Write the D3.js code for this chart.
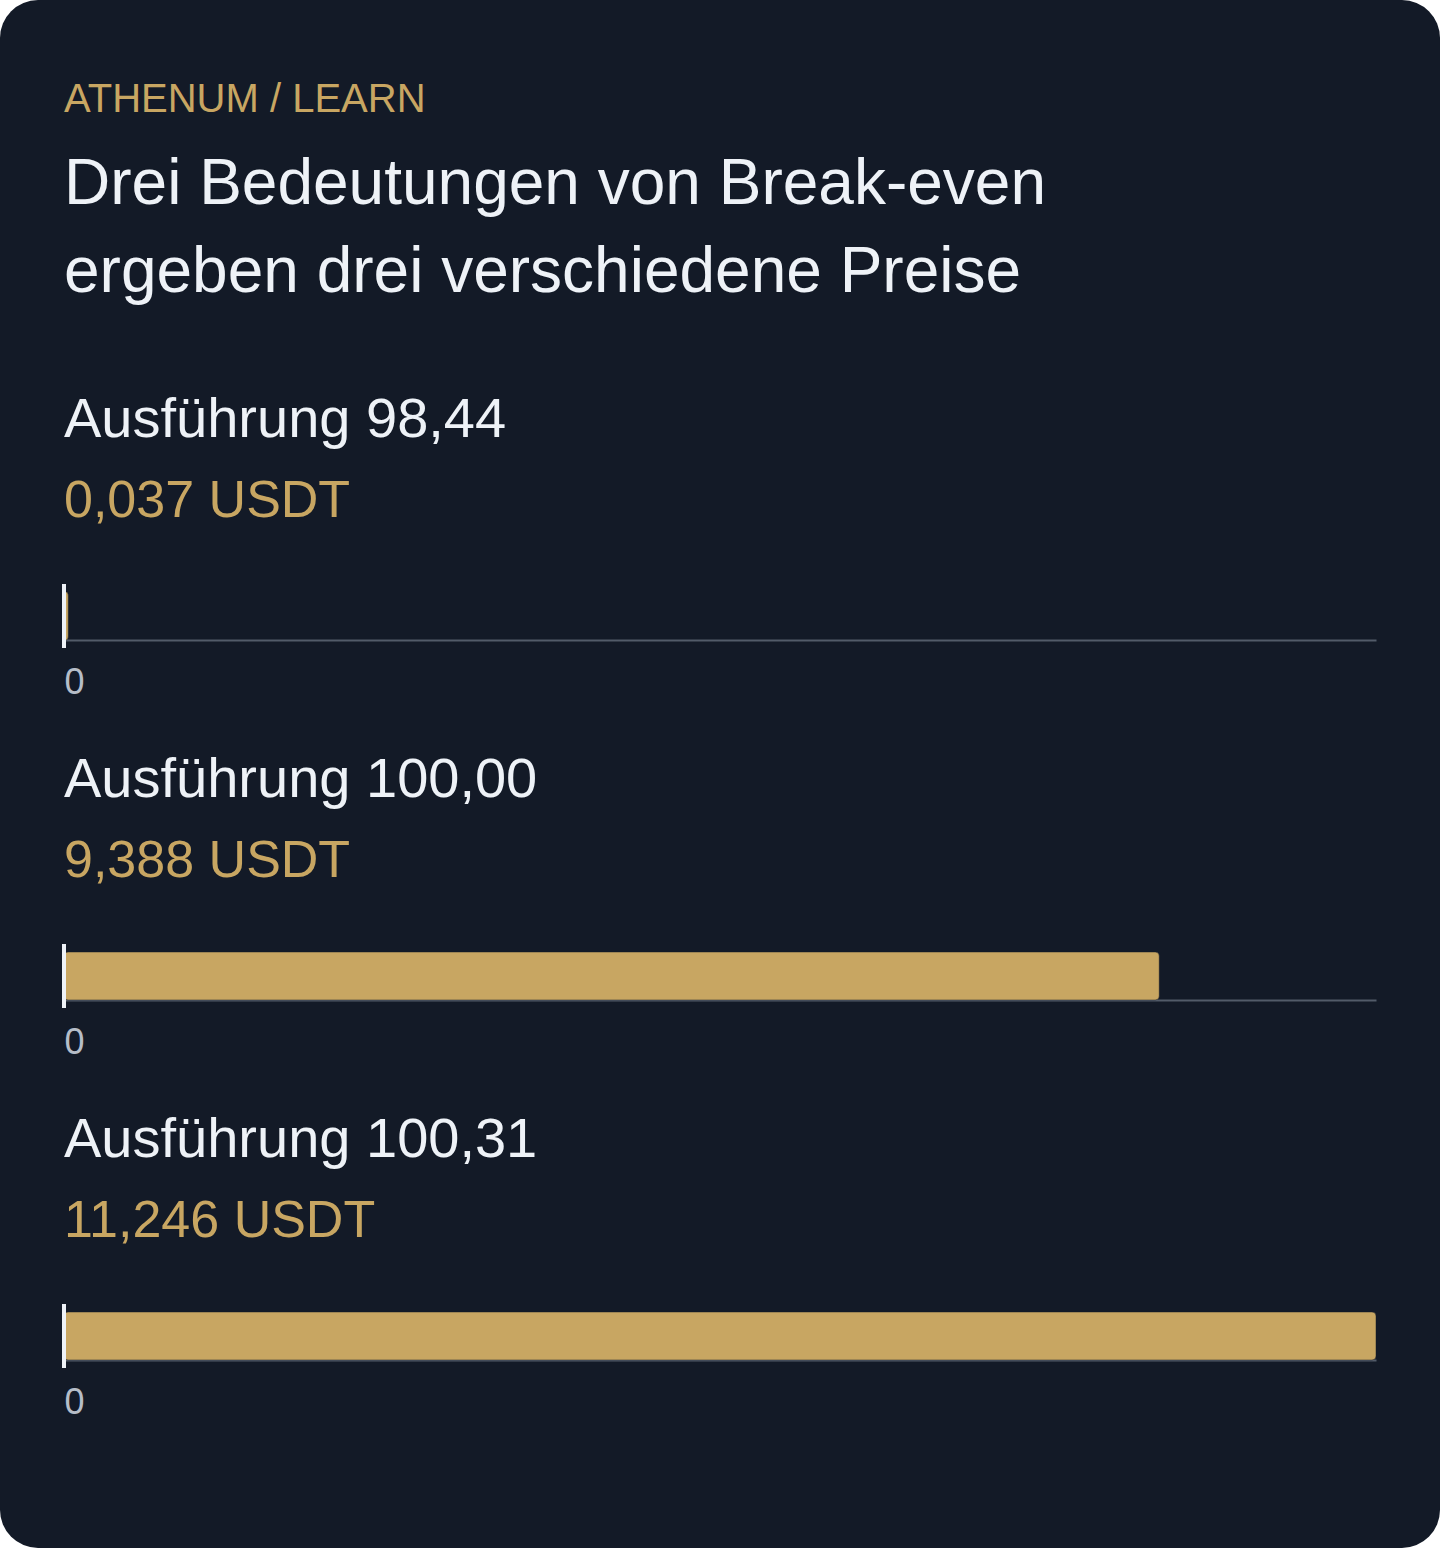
<!DOCTYPE html>
<html>
<head>
<meta charset="utf-8">
<script src="https://cdn.jsdelivr.net/npm/d3@7"></script>
<style>
  html, body { margin: 0; padding: 0; background: #ffffff; }
  svg { display: block; }
  text { font-family: "Liberation Sans", Arial, Helvetica, sans-serif; }
</style>
</head>
<body>
<div id="chart"></div>
<script>
// ---- data ----
const eyebrow = "ATHENUM / LEARN";
const titleLines = ["Drei Bedeutungen von Break-even", "ergeben drei verschiedene Preise"];
const categories = ["Ausführung 98,44", "Ausführung 100,00", "Ausführung 100,31"];
const values = [0.037, 9.388, 11.246];
const valueLabels = ["0,037 USDT", "9,388 USDT", "11,246 USDT"];
const tickValues = [0];
const tickLabels = ["0"];

// ---- layout / style ----
const W = 1440, H = 1548;
const BG = "#131a27", GOLD = "#c8a662", WHITE = "#eef2f7", MUTED = "#b6bdc8", AXIS = "#525b69";
const left = 64, right = 1376;
const panelTop = 437, panelStep = 360;

const svg = d3.select("#chart").append("svg")
  .attr("width", W).attr("height", H);

svg.append("rect")
  .attr("width", W).attr("height", H)
  .attr("rx", 38).attr("ry", 38)
  .attr("fill", BG);

svg.append("text")
  .attr("x", left).attr("y", 112)
  .attr("fill", GOLD)
  .attr("font-size", 40)
  .text(eyebrow);

svg.selectAll("text.title")
  .data(titleLines)
  .join("text")
  .attr("class", "title")
  .attr("x", left)
  .attr("y", (d, i) => 204 + i * 88)
  .attr("fill", WHITE)
  .attr("font-size", 64)
  .text(d => d);

const x = d3.scaleLinear()
  .domain([0, d3.max(values)])
  .range([left, right]);

const axis = d3.axisBottom(x)
  .tickValues(tickValues)
  .tickFormat((d, i) => tickLabels[i])
  .tickSizeInner(0)
  .tickSizeOuter(0);

const panels = svg.selectAll("g.panel")
  .data(categories.map((c, i) => ({ cat: c, value: values[i], label: valueLabels[i] })))
  .join("g")
  .attr("class", "panel")
  .attr("transform", (d, i) => `translate(0,${panelTop + i * panelStep})`);

panels.append("text")
  .attr("x", left).attr("y", 0)
  .attr("fill", WHITE)
  .attr("font-size", 56)
  .text(d => d.cat);

panels.append("text")
  .attr("x", left).attr("y", 80)
  .attr("fill", GOLD)
  .attr("font-size", 52)
  .text(d => d.label);

const barTop = 155, barH = 48, axisY = barTop + barH;

panels.each(function () {
  const g = d3.select(this);
  const ax = g.append("g")
    .attr("transform", `translate(0,${axisY})`)
    .call(axis);
  ax.select(".domain").attr("stroke", AXIS).attr("stroke-width", 2);
  ax.selectAll(".tick line").remove();
  ax.selectAll(".tick text")
    .attr("fill", MUTED)
    .attr("font-size", 36)
    .attr("font-family", "Liberation Sans, Arial, sans-serif")
    .attr("text-anchor", "start")
    .attr("x", 0)
    .attr("y", 54)
    .attr("dy", 0);
});

panels.append("rect")
  .attr("x", x(0))
  .attr("y", barTop)
  .attr("width", d => x(d.value) - x(0))
  .attr("height", barH)
  .attr("rx", 4).attr("ry", 4)
  .attr("fill", GOLD)
  .attr("stroke", BG)
  .attr("stroke-opacity", 0.6)
  .attr("stroke-width", 0.8);

panels.append("line")
  .attr("x1", x(0)).attr("x2", x(0))
  .attr("y1", barTop - 8).attr("y2", axisY + 8)
  .attr("stroke", WHITE)
  .attr("stroke-width", 4);
</script>
</body>
</html>
